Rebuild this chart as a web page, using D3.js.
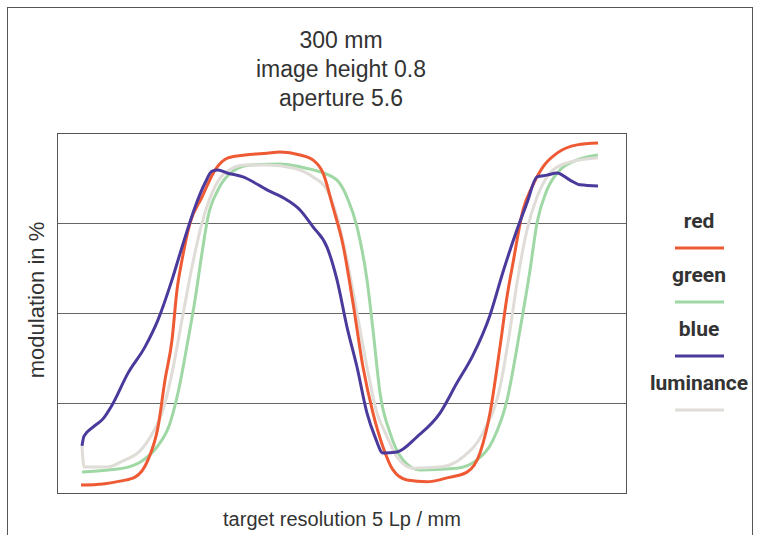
<!DOCTYPE html>
<html>
<head>
    <meta charset="utf-8">
    <title>MTF 300 mm</title>
    <script src="https://d3js.org/d3.v7.min.js"></script>
    <style>
        body { margin: 0; background: #fff; }
    </style>
</head>
<body>
    <svg id="chart" width="762" height="535"></svg>
    <script>
        // title lines
        const titleLines = ["300 mm", "image height 0.8", "aperture 5.6"];
        const yTicks = [25, 50, 75];

        // position along target (sample) , modulation in %
        const redPts = [[24,2.2],[46,2.5],[63,3.3],[78,4.4],[91,9.2],[101,18.3],[108,31.4],[115,42.5],[120,56.4],[125,64.7],[133,75.0],[145,82.2],[158,89.7],[171,93.1],[188,93.9],[210,94.4],[223,94.7],[243,93.9],[256,92.5],[266,88.9],[276,79.4],[286,68.9],[296,52.8],[306,35.0],[316,22.2],[326,12.8],[336,6.4],[350,3.6],[370,3.1],[390,4.2],[410,5.8],[423,11.1],[433,22.2],[443,40.6],[450,54.5],[456,63.9],[466,78.6],[475,85.0],[486,90.6],[500,94.4],[520,96.7],[541,97.2]];
        const greenPts = [[25,5.8],[51,6.4],[71,7.2],[85,8.9],[100,12.8],[113,19.4],[121,27.8],[131,42.5],[138,53.6],[145,66.7],[151,76.7],[161,84.2],[175,89.2],[193,91.1],[223,91.4],[243,90.6],[263,89.2],[280,86.9],[290,82.2],[300,73.9],[310,59.2],[316,45.3],[323,27.8],[333,16.7],[346,9.2],[363,6.4],[400,6.9],[420,9.2],[436,14.7],[450,25.8],[463,45.3],[473,61.9],[480,75.0],[490,84.2],[503,89.7],[520,92.5],[541,93.9]];
        const bluePts = [[25,13.1],[27,15.8],[36,18.3],[46,20.6],[55,24.4],[71,33.3],[88,40.6],[101,48.1],[115,59.2],[125,68.3],[138,79.4],[148,86.1],[155,89.4],[161,89.7],[170,88.9],[186,87.8],[210,84.2],[230,81.4],[243,78.6],[256,73.9],[270,68.3],[280,59.2],[290,46.1],[300,35.0],[310,22.2],[318,15.6],[326,11.1],[340,11.4],[360,15.6],[383,22.2],[400,30.6],[416,38.3],[433,49.4],[446,61.4],[460,73.1],[470,80.6],[480,87.8],[490,88.3],[500,88.9],[513,86.9],[523,85.6],[541,85.3]];
        const lumPts = [[25,13.3],[27,7.2],[50,7.2],[66,8.9],[83,11.7],[96,16.9],[105,22.2],[115,33.3],[125,48.1],[135,62.8],[145,75.0],[155,83.3],[168,88.9],[188,91.1],[210,91.1],[236,90.3],[256,87.8],[270,84.2],[280,76.7],[290,64.7],[300,50.0],[310,35.0],[320,22.2],[328,16.9],[340,10.0],[356,6.9],[383,7.2],[406,10.0],[426,16.7],[443,29.4],[453,45.3],[460,58.3],[470,73.1],[480,82.2],[493,88.9],[510,91.7],[541,93.1]];

        const series = [
            { name: "green", pts: greenPts, color: "#9fd8a4" },
            { name: "luminance", pts: lumPts, color: "#e0dcd7" },
            { name: "red", pts: redPts, color: "#ee5a33" },
            { name: "blue", pts: bluePts, color: "#4a3a9c" }
        ];
        const legendOrder = ["red", "green", "blue", "luminance"];

        const svg = d3.select("svg");
        const margin = { left: 57, top: 133, right: 626, bottom: 493 };

        const x = d3.scaleLinear().domain([0, 569]).range([margin.left, margin.right]);
        const y = d3.scaleLinear().domain([0, 100]).range([margin.bottom, margin.top]);

        // outer frame
        svg.append("rect")
            .attr("x", 7.5).attr("y", 7.5)
            .attr("width", 745).attr("height", 540)
            .attr("fill", "none")
            .attr("stroke", "#555");

        // title
        svg.append("g")
            .selectAll("text")
            .data(titleLines)
            .join("text")
            .attr("x", 341)
            .attr("y", (d, i) => 48 + i * 29)
            .attr("text-anchor", "middle")
            .style("font-family", "'Liberation Sans', Arial, sans-serif")
            .style("font-size", "23px")
            .style("fill", "#333")
            .text(d => d);

        // grid
        svg.append("g")
            .selectAll("line")
            .data(yTicks)
            .join("line")
            .attr("x1", margin.left).attr("x2", margin.right)
            .attr("y1", d => Math.round(y(d)) + 0.5).attr("y2", d => Math.round(y(d)) + 0.5)
            .attr("stroke", "#666");

        // plot frame
        svg.append("rect")
            .attr("x", margin.left + 0.5).attr("y", margin.top + 0.5)
            .attr("width", margin.right - margin.left).attr("height", margin.bottom - margin.top)
            .attr("fill", "none")
            .attr("stroke", "#555");

        const line = d3.line()
            .x(d => x(d[0]))
            .y(d => y(d[1]))
            .curve(d3.curveMonotoneX);

        svg.append("g")
            .selectAll("path")
            .data(series)
            .join("path")
            .attr("d", d => line(d.pts))
            .attr("fill", "none")
            .attr("stroke", d => d.color)
            .attr("stroke-width", 3);

        // axis labels
        svg.append("text")
            .attr("transform", "translate(44,300) rotate(-90)")
            .attr("text-anchor", "middle")
            .style("font-family", "'Liberation Sans', Arial, sans-serif")
            .style("font-size", "22px")
            .style("fill", "#333")
            .text("modulation in %");

        svg.append("text")
            .attr("x", 342).attr("y", 526)
            .attr("text-anchor", "middle")
            .style("font-family", "'Liberation Sans', Arial, sans-serif")
            .style("font-size", "20px")
            .style("fill", "#333")
            .text("target resolution 5 Lp / mm");

        // legend
        const colorOf = Object.fromEntries(series.map(s => [s.name, s.color]));
        const leg = svg.append("g")
            .selectAll("g")
            .data(legendOrder)
            .join("g")
            .attr("transform", (d, i) => `translate(699,${228 + i * 54})`);
        leg.append("text")
            .attr("text-anchor", "middle")
            .style("font-family", "Roboto, sans-serif")
            .style("font-weight", "bold")
            .style("font-size", "21px")
            .style("fill", "#333")
            .text(d => d);
        leg.append("line")
            .attr("x1", -24).attr("x2", 25)
            .attr("y1", 20).attr("y2", 20)
            .attr("stroke", d => colorOf[d])
            .attr("stroke-width", 3);
    </script>
</body>
</html>
